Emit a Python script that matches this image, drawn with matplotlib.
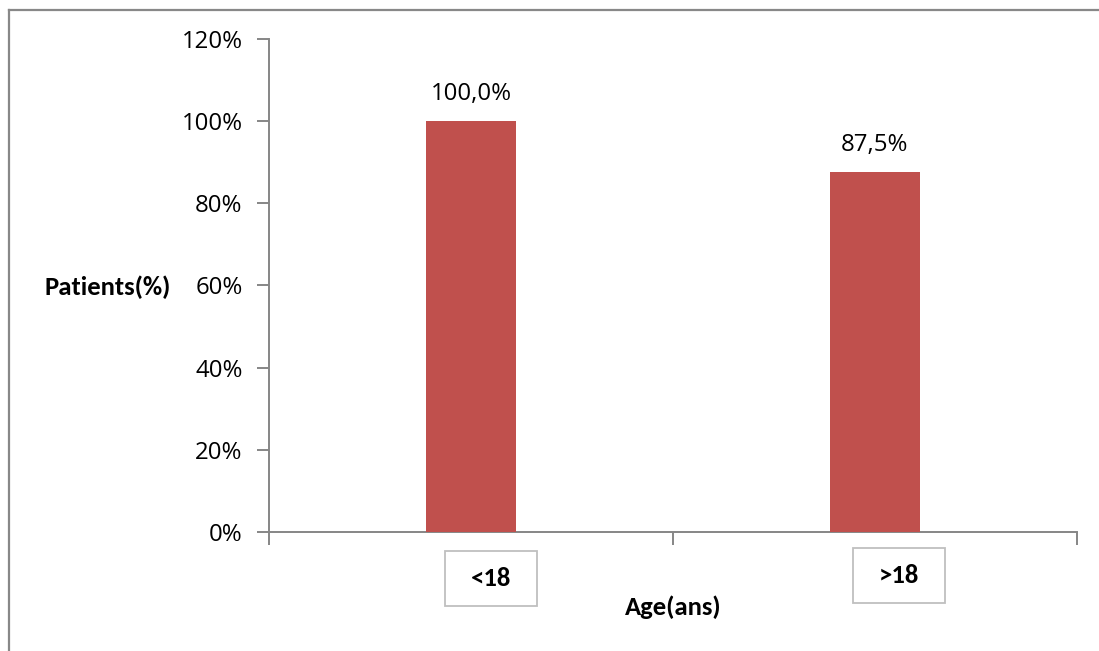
import matplotlib
matplotlib.use("Agg")
import matplotlib.pyplot as plt
from matplotlib.lines import Line2D
from matplotlib.patches import Rectangle
from matplotlib.ticker import FixedLocator, FuncFormatter, NullFormatter

categories = ["<18", ">18"]
values = [100.0, 87.5]
value_labels = ["100,0%", "87,5%"]
y_ticks = [0, 20, 40, 60, 80, 100, 120]

bar_color = "#C0504D"
axis_color = "#868686"
tick_font = ["Open Sans", "DejaVu Sans"]
bold_font = ["Carlito", "DejaVu Sans"]
tick_size = 17.3
bold_size = 19.2

W, H = 1099, 651
fig = plt.figure(figsize=(W / 100, H / 100), dpi=100)
fig.patch.set_facecolor("white")

# outer frame (left and top edges)
fx = 8.5 / W
fy = 1 - 9.5 / H
fig.add_artist(Line2D([fx, fx], [0, fy], transform=fig.transFigure, color="#888888", lw=1.6))
fig.add_artist(Line2D([fx, 1], [fy, fy], transform=fig.transFigure, color="#888888", lw=1.6))

ax = fig.add_axes([269 / W, 1 - 532 / H, (1077 - 269) / W, (532 - 38.8) / H])
x = list(range(len(categories)))
ax.bar(x, values, width=0.223, color=bar_color, zorder=3)

ax.set_xlim(-0.5, len(categories) - 0.5)
ax.set_ylim(0, 120)

for s in ["top", "right"]:
    ax.spines[s].set_visible(False)
for s in ["left", "bottom"]:
    ax.spines[s].set_color(axis_color)
    ax.spines[s].set_linewidth(1.4)

ax.yaxis.set_major_locator(FixedLocator(y_ticks))
ax.yaxis.set_major_formatter(FuncFormatter(lambda v, p: f"{int(v)}%"))
ax.tick_params(axis="y", direction="out", length=9, width=1.4, color=axis_color,
               pad=10, labelsize=tick_size, labelcolor="black")
for lab in ax.get_yticklabels():
    lab.set_fontfamily(tick_font)

ax.xaxis.set_major_locator(FixedLocator([-0.5, 0.5, 1.5]))
ax.xaxis.set_major_formatter(NullFormatter())
ax.tick_params(axis="x", direction="out", length=9, width=1.4, color=axis_color)

# category labels in framed boxes
box_offsets = [0.05, 0.06]
box_y = [-11.3, -10.6]
box_w, box_h = 92 / W, 55 / H
for i, (cat, off, yy) in enumerate(zip(categories, box_offsets, box_y)):
    ax.text(i + off, yy, cat, ha="center", va="center", fontsize=bold_size,
            fontweight="bold", family=bold_font, clip_on=False, zorder=6)
    px, py = ax.transData.transform((i + off, yy))
    cx, cy = fig.transFigure.inverted().transform((px, py))
    ax.add_patch(Rectangle((cx - box_w / 2, cy - box_h / 2), box_w, box_h,
                           transform=fig.transFigure, facecolor="white",
                           edgecolor="#BFBFBF", lw=1.3, zorder=5, clip_on=False))

# value labels above bars
for i, (v, lab) in enumerate(zip(values, value_labels)):
    ax.annotate(lab, (i, v), xytext=(0, 19.5), textcoords="offset points",
                ha="center", va="center", fontsize=tick_size, family=tick_font)

fig.text(673 / W, 1 - 607 / H, "Age(ans)", ha="center", va="center",
         fontsize=bold_size, fontweight="bold", family=bold_font)
fig.text(45 / W, 1 - 287 / H, "Patients(%)", ha="left", va="center",
         fontsize=bold_size, fontweight="bold", family=bold_font)

fig.savefig("out.png", dpi=100, facecolor="white")
